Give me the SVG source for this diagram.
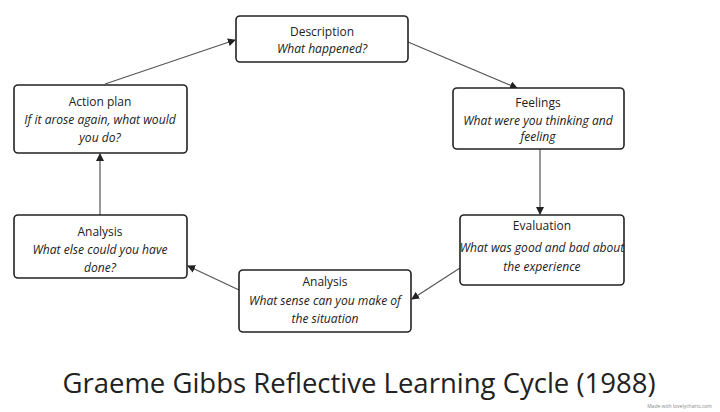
<svg xmlns="http://www.w3.org/2000/svg" width="720" height="412" viewBox="0 0 720 412">
<defs>
<marker id="ah" markerWidth="8" markerHeight="8" refX="7" refY="4" orient="auto" markerUnits="userSpaceOnUse"><path d="M0,0 L8,4 L0,8 Z" fill="#222"/></marker>
<style>
.box{fill:#fff;stroke:#222;stroke-width:1.6}
.t{font-family:"Open Sans","DejaVu Sans",sans-serif;font-size:12px;fill:#222;text-anchor:middle}
.i{font-style:italic;font-size:12.1px}
.c{stroke:#555;stroke-width:1.2;fill:none;marker-end:url(#ah)}
</style>
</defs>
<rect width="720" height="412" fill="#fff"/>
<g id="connectors">
<line class="c" x1="105" y1="84" x2="235" y2="40"/>
<line class="c" x1="408" y1="42" x2="517" y2="88"/>
<line class="c" x1="540" y1="149" x2="540" y2="214"/>
<line class="c" x1="460" y1="268" x2="412" y2="299"/>
<line class="c" x1="239" y1="290" x2="188" y2="266"/>
<line class="c" x1="100" y1="215" x2="100" y2="154"/>
</g>
<g id="description"><rect class="box" x="236" y="16" width="172" height="46" rx="4"/><text class="t" x="322" y="36">Description</text><text class="t i" x="322" y="53">What happened?</text></g>
<g id="feelings"><rect class="box" x="453" y="88" width="171" height="61" rx="4"/><text class="t" x="538" y="107">Feelings</text><text class="t i" x="538" y="125">What were you thinking and</text><text class="t i" x="538" y="141">feeling</text></g>
<g id="evaluation"><rect class="box" x="460" y="215" width="164" height="70" rx="4"/><text class="t" x="542" y="230">Evaluation</text><text class="t i" x="542" y="252">What was good and bad about</text><text class="t i" x="542" y="271">the experience</text></g>
<g id="analysis2"><rect class="box" x="239" y="270" width="172" height="62" rx="4"/><text class="t" x="325" y="286">Analysis</text><text class="t i" x="325" y="305">What sense can you make of</text><text class="t i" x="325" y="323">the situation</text></g>
<g id="analysis1"><rect class="box" x="14" y="215" width="173" height="63" rx="4"/><text class="t" x="100" y="236">Analysis</text><text class="t i" x="100" y="254">What else could you have</text><text class="t i" x="100" y="272">done?</text></g>
<g id="actionplan"><rect class="box" x="14" y="85" width="173" height="68" rx="4"/><text class="t" x="100" y="106">Action plan</text><text class="t i" x="100" y="124">If it arose again, what would</text><text class="t i" x="100" y="142">you do?</text></g>
<text x="359" y="393" style="font-family:'Open Sans','DejaVu Sans',sans-serif;font-size:27.5px;fill:#222;text-anchor:middle">Graeme Gibbs Reflective Learning Cycle (1988)</text>
<text x="712" y="408" style="font-family:'Open Sans',sans-serif;font-size:5px;fill:#888;text-anchor:end">Made with lovelycharts.com</text>
</svg>
